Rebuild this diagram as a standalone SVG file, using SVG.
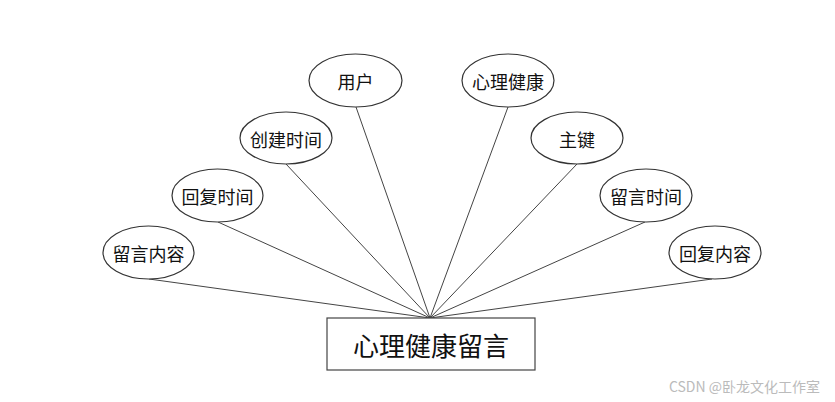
<svg xmlns="http://www.w3.org/2000/svg" width="835" height="402" viewBox="0 0 835 402">
<style>
.e{fill:#fff;stroke:#333;stroke-width:1.2}
.t{font-family:"Noto Sans CJK SC","Liberation Sans",sans-serif;font-size:18px;fill:#111;text-anchor:middle;dominant-baseline:central}
.c line{stroke:#444;stroke-width:1}
</style>
<rect width="835" height="402" fill="#fff"/>
<g id="connectors" class="c">
<line x1="356" y1="107" x2="430" y2="318"/>
<line x1="286" y1="164" x2="430" y2="318"/>
<line x1="218" y1="222" x2="430" y2="318"/>
<line x1="149" y1="279" x2="430" y2="318"/>
<line x1="508" y1="107" x2="430" y2="318"/>
<line x1="577" y1="164" x2="430" y2="318"/>
<line x1="645" y1="222" x2="430" y2="318"/>
<line x1="712" y1="279" x2="430" y2="318"/>
</g>
<g id="entity">
<rect x="327" y="318" width="208" height="52" fill="#fff" stroke="#444" stroke-width="1.2"/>
<text class="t" x="431" y="344" style="font-size:26px">心理健康留言</text>
</g>
<g id="n-yonghu"><ellipse class="e" cx="355.5" cy="80.5" rx="46.5" ry="26.5"/><text class="t" x="355.5" y="81">用户</text></g>
<g id="n-chuangjian"><ellipse class="e" cx="286" cy="138" rx="46" ry="26"/><text class="t" x="286" y="139">创建时间</text></g>
<g id="n-huifushijian"><ellipse class="e" cx="217.5" cy="195.5" rx="45.5" ry="26.5"/><text class="t" x="217.5" y="196">回复时间</text></g>
<g id="n-liuyanneirong"><ellipse class="e" cx="148.5" cy="252.5" rx="45.5" ry="26.5"/><text class="t" x="148.5" y="253">留言内容</text></g>
<g id="n-xinli"><ellipse class="e" cx="508" cy="80.5" rx="46" ry="26.5"/><text class="t" x="508" y="81">心理健康</text></g>
<g id="n-zhujian"><ellipse class="e" cx="577" cy="138" rx="46" ry="26"/><text class="t" x="577" y="139">主键</text></g>
<g id="n-liuyanshijian"><ellipse class="e" cx="646" cy="195.5" rx="46" ry="26.5"/><text class="t" x="646" y="196">留言时间</text></g>
<g id="n-huifuneirong"><ellipse class="e" cx="715" cy="252.5" rx="46" ry="26.5"/><text class="t" x="715" y="253">回复内容</text></g>
<text x="820" y="386" font-family="'Noto Sans CJK SC','Liberation Sans',sans-serif" font-size="14" fill="#bbb" text-anchor="end" dominant-baseline="central">CSDN @卧龙文化工作室</text>
</svg>
